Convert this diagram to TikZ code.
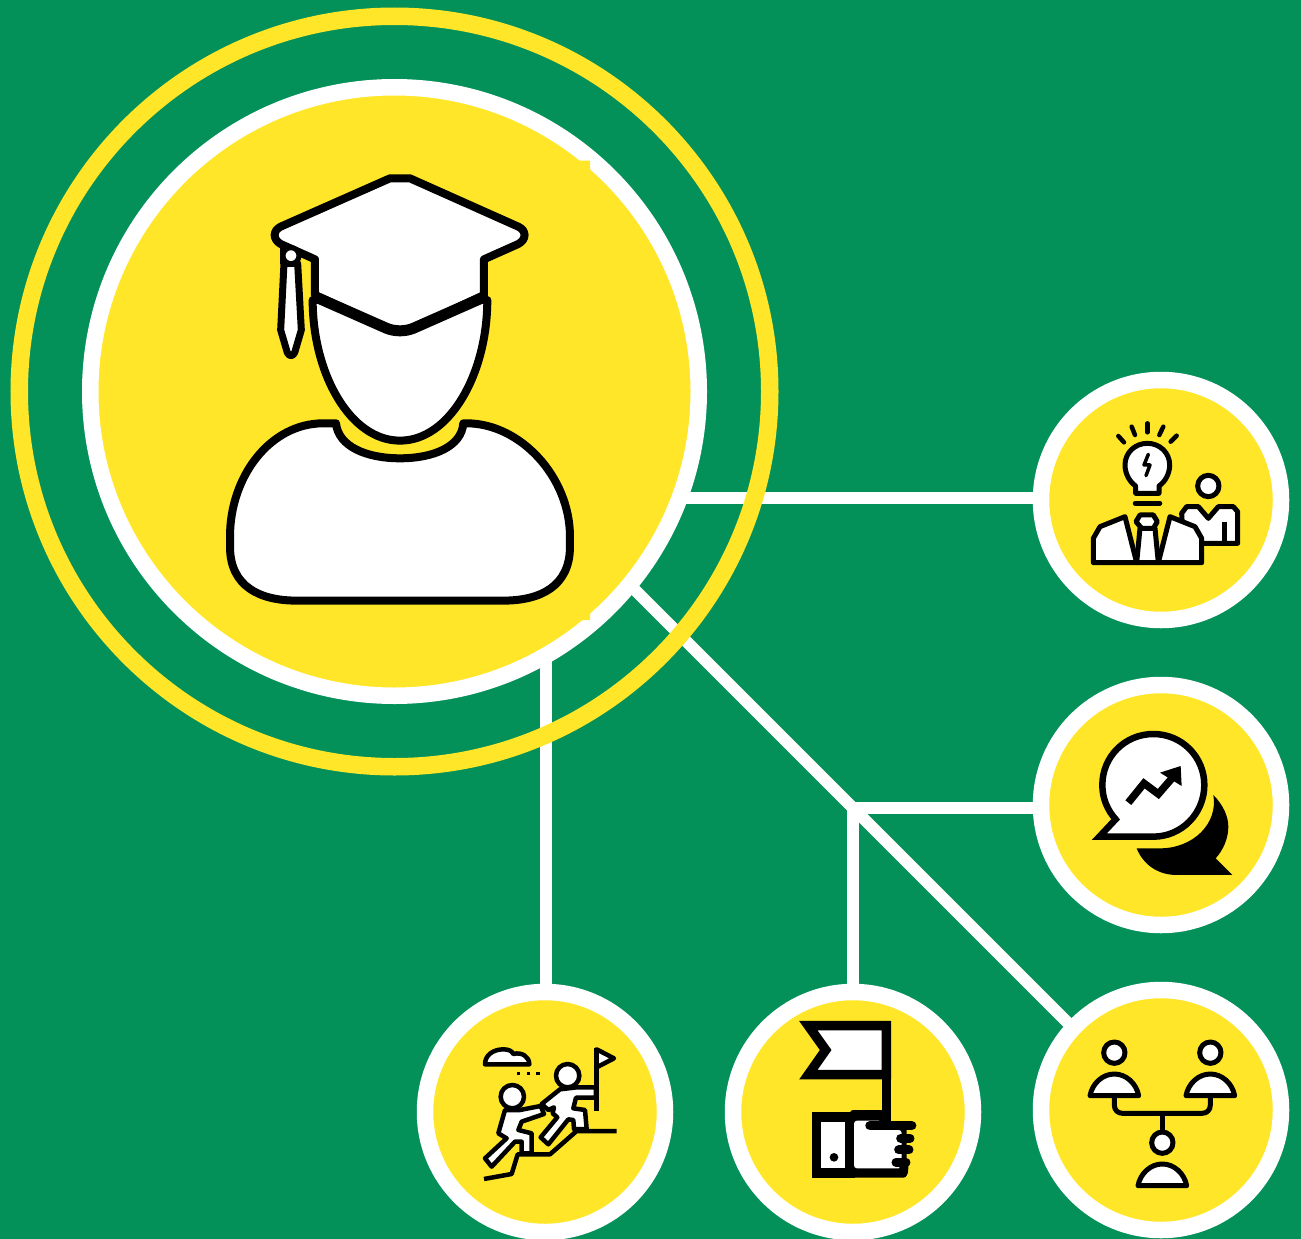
\documentclass[tikz,border=0pt]{standalone}
\usepackage{xcolor}
\definecolor{leafgreen}{RGB}{3,144,89}
\definecolor{sunyellow}{RGB}{255,230,41}
\pgfdeclarelayer{links}
\pgfsetlayers{links,main}
\tikzset{
  disc/.style={circle, draw=white, fill=sunyellow, line width=16.5pt, inner sep=0pt, outer sep=0pt, minimum size=240pt},
  link/.style={white, line width=12pt},
  ink/.style={draw=black, fill=white, line join=round},
  limb/.style={draw=black, line width=4.5pt, line cap=round, line join=round}
}
\begin{document}
\begin{tikzpicture}[x=1pt, y=-1pt]
  \useasboundingbox (0,0) rectangle (1301,1239);

  % the discs
  \node[disc, minimum size=608.5pt] (grad) at (394.5,391.5) {};
  \node[disc] (idea) at (1161,500) {};
  \node[disc] (talk) at (1161,805) {};
  \node[disc] (team) at (1161,1110) {};
  \node[disc] (flag) at (853,1112) {};
  \node[disc] (climb) at (545,1112) {};

  \coordinate (tapE) at (600,498);
  \coordinate (tapS) at (546,600);
  \coordinate (tapD) at (600,555);
  \coordinate (hub) at (853,808);
  \coordinate (tapT) at (1100,1055);

  \begin{pgfonlayer}{links}
    \fill[leafgreen] (0,0) rectangle (1301,1239);
    \draw[link] (tapE) -- (tapE -| idea);
    \draw[link] (tapS) -- (tapS |- climb);
    \draw[link] (tapD) -- (hub) -- (tapT);
    \draw[link] (hub) -- (hub -| talk);
    \draw[link] (hub) -- (hub |- flag);
  \end{pgfonlayer}

  \node[circle, draw=sunyellow, line width=17.5pt, inner sep=0pt, outer sep=0pt, minimum size=750.5pt] (halo) at (394.5,391.5) {};

  % small tabs on the big disc
  \fill[sunyellow] (576,160.5) -- (590,160.5) -- (590,172) -- cycle;
  \fill[sunyellow] (578,620) -- (590,620) -- (590,610) -- cycle;

  % graduate
  \begin{scope}[shift={(210,160)}, scale=0.3333]
    \draw[ink, line width=8pt] (378,790) -- (340,790) .. controls (180,790) and (60,950) .. (60,1130) -- (60,1160)
      .. controls (60,1280) and (150,1322) .. (260,1322) -- (880,1322)
      .. controls (990,1322) and (1080,1280) .. (1080,1160) -- (1080,1130)
      .. controls (1080,950) and (930,790) .. (770,790) -- (760,790)
      .. controls (755,860) and (670,895) .. (570,895) .. controls (470,895) and (385,860) .. (378,790) -- cycle;
    \draw[ink, line width=8pt] (308,420) .. controls (308,640) and (420,842) .. (570,842)
      .. controls (720,842) and (832,640) .. (832,420) -- cycle;
    \draw[ink, line width=8pt] (540,55) -- (600,55) -- (925,200) .. controls (950,212) and (950,238) .. (925,252)
      -- (822,298) -- (822,405) -- (610,505) .. controls (585,515) and (555,515) .. (530,505)
      -- (315,405) -- (315,298) -- (212,252) .. controls (188,238) and (188,212) .. (212,200) -- cycle;
    \draw[black, line width=11pt, line join=round] (315,410) -- (530,505) .. controls (555,515) and (585,515) .. (610,505) -- (825,410);
    \draw[ink, line width=7pt] (222,310) -- (212,510) -- (232,578) .. controls (238,590) and (248,590) .. (254,578) -- (274,510) -- (263,310) -- cycle;
    \draw[black, line width=7pt] (222,258) -- (222,312);
    \node[circle, ink, line width=5pt, inner sep=0pt, minimum size=16pt] (knob) at (243,287) {};
  \end{scope}

  % bulb and two people
  \begin{scope}[shift={(1070,410)}, scale=0.3333]
    \draw[limb] (145,78) -- (162,97);
    \draw[limb] (185,50) -- (195,75);
    \draw[limb] (232,40) -- (232,67);
    \draw[limb] (280,50) -- (268,75);
    \draw[limb] (320,77) -- (302,95);
    \draw[ink, line width=5pt] (197,250) -- (197,228) .. controls (178,215) and (165,190) .. (165,165)
      .. controls (165,128) and (195,100) .. (232,100) .. controls (269,100) and (299,128) .. (299,165)
      .. controls (299,190) and (286,215) .. (267,228) -- (267,250) -- cycle;
    \draw[black, line width=3.5pt, line join=round, line cap=round] (235,133) -- (222,165) -- (240,165) -- (228,197);
    \draw[black, line width=4.5pt, line cap=round] (195,280) -- (270,280);
    \draw[ink, line width=5pt] (415,228) circle [radius=32];
    \draw[ink, line width=5pt] (335,310) -- (350,290) -- (385,290) -- (415,325) -- (445,290) -- (490,290) -- (503,305) -- (503,400) -- (340,400) -- cycle;
    \draw[black, line width=5pt] (465,335) -- (465,400);
    \draw[ink, line width=5pt] (70,458) -- (70,385) -- (90,350) -- (165,320) -- (200,458) -- cycle;
    \draw[ink, line width=5pt] (395,458) -- (395,385) -- (375,350) -- (300,320) -- (265,458) -- cycle;
    \draw[ink, line width=5pt] (210,355) -- (200,458) -- (265,458) -- (255,355) -- cycle;
    \draw[ink, line width=5pt] (210,315) -- (250,315) -- (262,335) -- (250,355) -- (215,355) -- (198,335) -- cycle;
  \end{scope}

  % two speech bubbles
  \begin{scope}[shift={(1070,720)}, scale=0.3333]
    \draw[ink, line width=6.5pt, line join=miter] (88,350) -- (250,350) .. controls (335,350) and (403,280) .. (403,195)
      .. controls (403,110) and (335,42) .. (250,42) .. controls (165,42) and (97,110) .. (97,195)
      .. controls (97,235) and (112,270) .. (137,298) -- cycle;
    \fill[black] (430,225) .. controls (460,255) and (475,290) .. (475,320) .. controls (475,355) and (460,390) .. (437,415)
      -- (487,465) -- (320,465) .. controls (265,465) and (220,435) .. (200,385) -- (270,385)
      .. controls (370,385) and (445,310) .. (430,225) -- cycle;
    \draw[black, line width=7.5pt] (175,248) -- (222,190) -- (265,222) -- (310,170);
    \fill[black] (270,158) -- (332,138) -- (335,198) -- cycle;
  \end{scope}

  % climbers
  \begin{scope}[shift={(470,1030)}, scale=0.3333]
    \draw[ink, line width=4.5pt] (45,103) .. controls (45,75) and (70,58) .. (100,58) .. controls (115,58) and (125,62) .. (130,72)
      .. controls (155,65) and (178,80) .. (178,103) -- cycle;
    \foreach \x in {140,170,198} {
      \fill[black] (\x,125) rectangle ++(11,11);
    }
    \draw[black, line width=4.5pt] (380,55) -- (380,243);
    \draw[ink, line width=4.5pt] (380,58) -- (432,85) -- (380,112) -- cycle;
    \draw[limb, line cap=butt] (440,303) -- (320,303) -- (240,373) -- (143,373) -- (125,432) -- (42,447);
    \draw[ink, line width=4.5pt] (378,172) -- (320,172) -- (270,178) -- (215,222) -- (235,240) -- (252,232) -- (248,250) -- (262,262)
      -- (212,322) -- (235,343) -- (295,268) -- (310,270) -- (312,297) -- (350,297) -- (345,240) -- (310,235) -- (318,203) -- (378,203) -- cycle;
    \draw[ink, line width=4.5pt] (105,240) -- (150,240) -- (212,228) -- (222,252) -- (155,275) -- (145,300) -- (185,310) -- (185,370)
      -- (155,370) -- (155,335) -- (135,335) -- (65,410) -- (45,385) -- (110,325) -- (85,310) -- cycle;
    \draw[ink, line width=4.5pt] (293,137) circle [radius=35];
    \draw[ink, line width=4.5pt] (127,200) circle [radius=35];
  \end{scope}

  % flag and thumb
  \begin{scope}[shift={(780,1010)}, scale=0.3333]
    \draw[ink, line width=9.5pt, line join=miter] (85,47) -- (319,47) -- (319,194) -- (85,194) -- (137,120) -- cycle;
    \draw[black, line width=9.5pt] (319,194) -- (319,345);
    \draw[ink, line width=9.5pt, line join=miter] (109,321) rectangle (210,489);
    \fill[black] (162,442) circle [radius=13];
    \fill[black, rounded corners=3pt] (210,300) -- (320,300) -- (320,333) -- (380,333) -- (380,503) -- (210,503) -- cycle;
    \fill[white, rounded corners=3pt] (222,332) -- (305,332) -- (305,360) -- (365,360) -- (365,475) -- (222,475) -- cycle;
    \draw[black, line width=9.5pt, line cap=round] (270,347) -- (395,347);
    \draw[black, line width=9pt, line cap=round] (362,385) -- (390,385);
    \draw[black, line width=9pt, line cap=round] (356,420) -- (387,420);
    \draw[black, line width=9pt, line cap=round] (348,457) -- (378,457);
    \draw[black, line width=9pt, line cap=round] (370,488) -- (372,470);
  \end{scope}

  % three people joined
  \begin{scope}[shift={(1075,1030)}, scale=0.3333]
    \draw[black, line width=5pt] (118,197) -- (118,225) .. controls (118,240) and (128,250) .. (143,250) -- (381,250)
      .. controls (396,250) and (406,240) .. (406,225) -- (406,197);
    \draw[black, line width=5pt] (262,250) -- (262,305);
    \foreach \x/\y in {118/0, 406/0, 262/270} {
      \draw[ink, line width=5pt] (\x,68+\y) circle [radius=32];
      \draw[ink, line width=5pt] (\x-73,197+\y) .. controls (\x-66,160+\y) and (\x-35,132+\y) .. (\x,132+\y)
        .. controls (\x+35,132+\y) and (\x+66,160+\y) .. (\x+73,197+\y) -- cycle;
    }
  \end{scope}
\end{tikzpicture}
\end{document}
